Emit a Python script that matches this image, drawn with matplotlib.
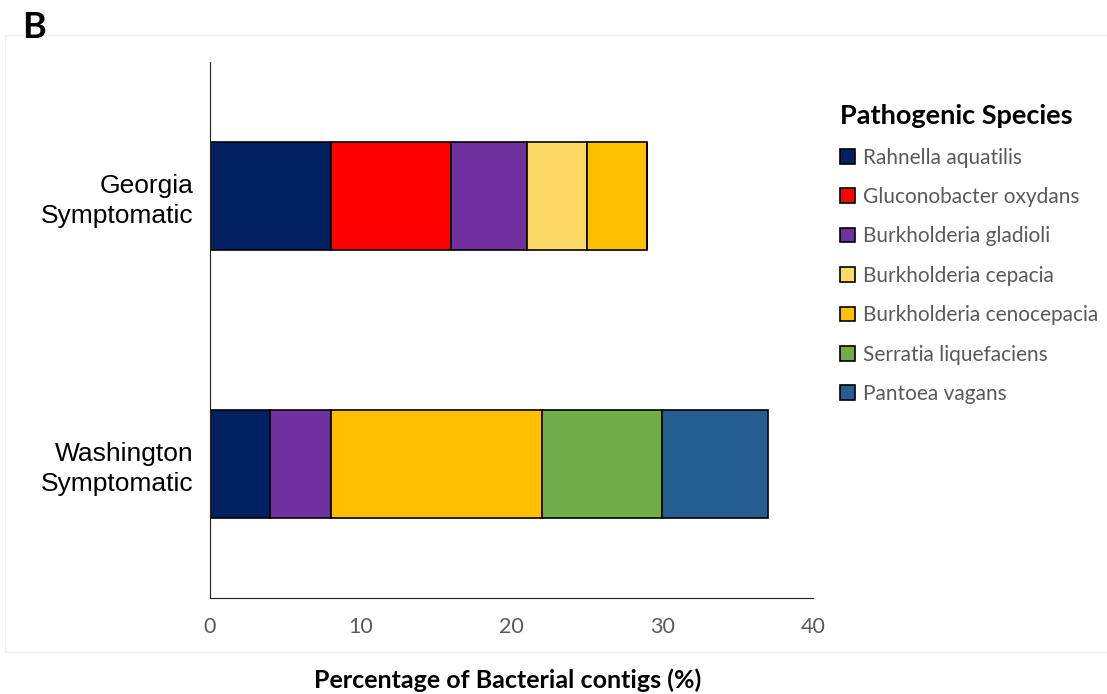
import numpy as np
import matplotlib.pyplot as plt
from matplotlib.patches import Rectangle

# Данные
groups = ['Georgia\nSymptomatic', 'Washington\nSymptomatic']
species = ['Rahnella aquatilis', 'Gluconobacter oxydans', 'Burkholderia gladioli',
           'Burkholderia cepacia', 'Burkholderia cenocepacia',
           'Serratia liquefaciens', 'Pantoea vagans']
georgia = [8, 8, 5, 4, 4, 0, 0]
washington = [4, 0, 4, 0, 14, 8, 7]
colors = ['#002060', '#ff0000', '#7030a0', '#ffd966', '#ffc000', '#70ad47', '#255e91']

values = np.array([georgia, washington], dtype=float)

fig = plt.figure(figsize=(11.07, 6.94), dpi=100)
ax = fig.add_axes([210 / 1107, 1 - 598 / 694, 603 / 1107, 536 / 694])

# рамка вокруг панели
fig.patches.append(Rectangle((5 / 1107, 1 - 652 / 694), 1.0, 617 / 694,
                             transform=fig.transFigure, fill=False,
                             edgecolor='#f0f0f0', linewidth=1))

y = np.arange(len(groups))
left = np.zeros(len(groups))
handles = []
for i, name in enumerate(species):
    bars = ax.barh(y, values[:, i], left=left, height=0.4, color=colors[i],
                   edgecolor='black', linewidth=1.2, label=name)
    handles.append(bars)
    left += values[:, i]

ax.set_xlim(0, 40)
ax.set_ylim(1.5, -0.5)
ax.set_xticks([0, 10, 20, 30, 40])
ax.set_yticks(y)
ax.set_yticklabels(groups, fontsize=19, family='Liberation Sans', color='black',
                   linespacing=1.3)
for lbl in ax.get_xticklabels():
    lbl.set_fontsize(15.5)
    lbl.set_family('Lato')
    lbl.set_color('#595959')
ax.tick_params(axis='both', length=0)
ax.tick_params(axis='x', pad=14)
ax.tick_params(axis='y', pad=12)
for lbl in ax.get_yticklabels():
    lbl.set_horizontalalignment('right')
    lbl.set_multialignment('right')
    lbl.set_y(lbl.get_position()[1])
ax.spines['top'].set_visible(False)
ax.spines['right'].set_visible(False)
ax.spines['left'].set_color('#222222')
ax.spines['bottom'].set_color('#222222')

fig.text(508 / 1107, 1 - 680 / 694, 'Percentage of Bacterial contigs (%)',
         ha='center', va='center', fontsize=18, fontweight='bold', family='Lato')
fig.text(22 / 1107, 1 - 28 / 694, 'B', ha='left', va='center',
         fontsize=26, fontweight='bold', family='Lato')

leg = fig.legend(handles=handles, labels=species, loc='upper left',
                 bbox_to_anchor=(832 / 1107, 1 - 96 / 694), frameon=False,
                 title='Pathogenic Species', alignment='left',
                 prop={'family': 'Lato', 'size': 15},
                 title_fontproperties={'family': 'Lato', 'size': 19.5, 'weight': 'bold'},
                 handlelength=0.7, handleheight=0.7, handletextpad=0.4,
                 labelspacing=0.93, borderaxespad=0)
for t in leg.get_texts():
    t.set_color('#595959')

fig.savefig('out.png', dpi=100)
